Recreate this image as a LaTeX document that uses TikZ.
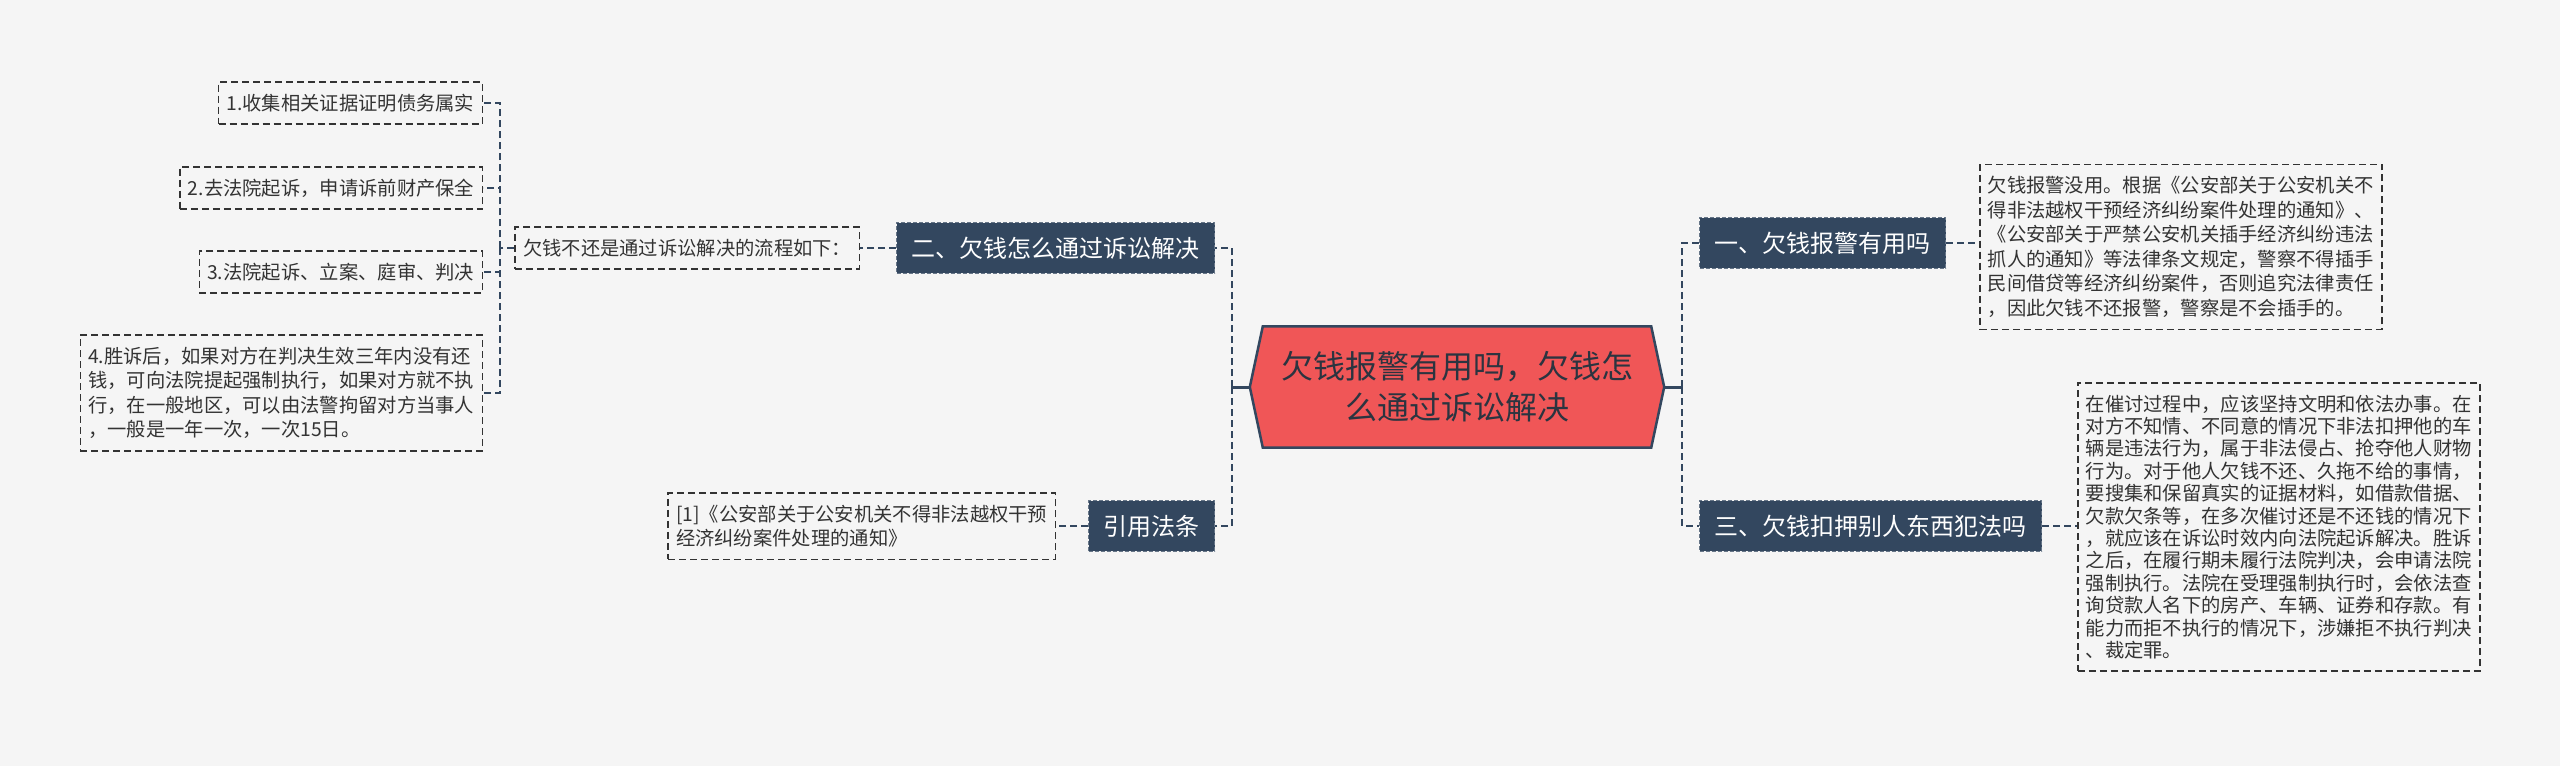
\documentclass[tikz,border=0pt]{standalone}
\usepackage{fontspec}
\setmainfont{Noto Sans CJK SC}
\usepackage{xcolor}
\usepackage{tikz}
\usetikzlibrary{positioning,backgrounds}
\definecolor{paper}{HTML}{F5F5F5}
\definecolor{navy}{HTML}{33475F}
\definecolor{rose}{HTML}{F05657}
\definecolor{ink}{HTML}{333333}
\definecolor{rootink}{HTML}{2B3440}
\tikzset{
  link/.style={draw=navy, line width=2.2pt, dash pattern=on 7pt off 4pt},
  stem/.style={draw=navy, line width=3pt},
  topic/.style={fill=navy, draw=navy!75!white, line width=1pt, dash pattern=on 4pt off 2pt,
    text=white, font=\fontsize{24}{30}\selectfont, inner xsep=15pt, inner ysep=14pt},
  note/.style={draw=ink, line width=1.5pt, dash pattern=on 7pt off 4pt, text=ink,
    font=\fontsize{19.3}{24.5}\selectfont, align=left, inner xsep=8pt, inner ysep=12pt},
  hexa/.style={fill=rose, draw=navy, line width=2.5pt, line join=miter},
}

\begin{document}
\begin{tikzpicture}[x=1pt,y=-1pt]
  \useasboundingbox (0,0) rectangle (2560,766);

  % centre
  \node[text=rootink, font=\fontsize{32}{41}\selectfont, align=center,
        minimum width=414pt, minimum height=121pt] (root) at (1457,387)
        {欠钱报警有用吗，欠钱怎\\么通过诉讼解决};
  \begin{scope}[on background layer]
    \fill[paper] (0,0) rectangle (2560,766);
    \draw[hexa] ([xshift=13pt]root.north west) -- ([xshift=-13pt]root.north east) -- (root.east)
      -- ([xshift=-13pt]root.south east) -- ([xshift=13pt]root.south west) -- (root.west) -- cycle;
  \end{scope}
  \coordinate (sl) at (1232,387);
  \coordinate (sr) at (1682,387);

  % left branch
  \node[topic, anchor=east] (n2) at (1215,248) {二、欠钱怎么通过诉讼解决};
  \node[topic, anchor=east] (law) at (1215,526) {引用法条};
  \node[note, anchor=east] (flow) at (860,248) {欠钱不还是通过诉讼解决的流程如下：};
  \node[note, anchor=east] (cite) at (1056,526)
    {[1]《公安部关于公安机关不得非法越权干预\\经济纠纷案件处理的通知》};

  \coordinate (fl) at (500,248);
  \node[note, anchor=east] (i1) at (483,103) {1.收集相关证据证明债务属实};
  \node[note, anchor=east] (i2) at (483,188) {2.去法院起诉，申请诉前财产保全};
  \node[note, anchor=east] (i3) at (483,272) {3.法院起诉、立案、庭审、判决};
  \node[note, anchor=east] (i4) at (483,393)
    {4.胜诉后，如果对方在判决生效三年内没有还\\钱，可向法院提起强制执行，如果对方就不执\\行，在一般地区，可以由法警拘留对方当事人\\，一般是一年一次，一次15日。};

  % right branch
  \node[topic, anchor=west] (n1) at (1699,243) {一、欠钱报警有用吗};
  \node[topic, anchor=west] (n3) at (1699,526) {三、欠钱扣押别人东西犯法吗};
  \node[note, anchor=west] (t1) at (1979,247)
    {欠钱报警没用。根据《公安部关于公安机关不\\得非法越权干预经济纠纷案件处理的通知》、\\《公安部关于严禁公安机关插手经济纠纷违法\\抓人的通知》等法律条文规定，警察不得插手\\民间借贷等经济纠纷案件，否则追究法律责任\\，因此欠钱不还报警，警察是不会插手的。};
  \node[note, anchor=west, font=\fontsize{19.3}{22.4}\selectfont] (t3) at (2077,527)
    {在催讨过程中，应该坚持文明和依法办事。在\\对方不知情、不同意的情况下非法扣押他的车\\辆是违法行为，属于非法侵占、抢夺他人财物\\行为。对于他人欠钱不还、久拖不给的事情，\\要搜集和保留真实的证据材料，如借款借据、\\欠款欠条等，在多次催讨还是不还钱的情况下\\，就应该在诉讼时效内向法院起诉解决。胜诉\\之后，在履行期未履行法院判决，会申请法院\\强制执行。法院在受理强制执行时，会依法查\\询贷款人名下的房产、车辆、证券和存款。有\\能力而拒不执行的情况下，涉嫌拒不执行判决\\、裁定罪。};

  % connectors
  \draw[stem] (root.west) -- (sl);
  \draw[stem] (root.east) -- (sr);
  \draw[link] (sl) |- (n2.east);
  \draw[link] (sl) |- (law.east);
  \draw[link] (sr) |- (n1.west);
  \draw[link] (sr) |- (n3.west);
  \draw[link] (n2.west) -- (n2.west -| flow.east);
  \draw[link] (law.west) -- (law.west -| cite.east);
  \draw[link] (n1.east) -- (n1.east -| t1.west);
  \draw[link] (n3.east) -- (n3.east -| t3.west);
  \draw[link] (flow.west) -- (fl);
  \foreach \k in {1,...,4}
    \draw[link] (fl) |- (i\k.east);
\end{tikzpicture}
\end{document}
